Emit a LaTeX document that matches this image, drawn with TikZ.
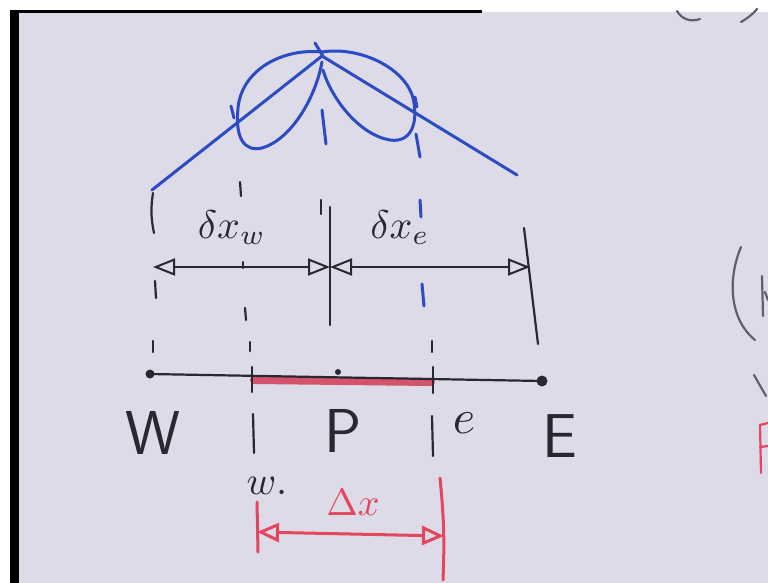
\documentclass[tikz,border=0pt]{standalone}
\usetikzlibrary{arrows.meta}
\definecolor{board}{RGB}{221,219,232}
\definecolor{ink}{RGB}{40,40,48}
\definecolor{bluepen}{RGB}{45,75,195}
\definecolor{redpen}{RGB}{228,70,95}
\definecolor{redband}{RGB}{212,82,108}
\definecolor{grayink}{RGB}{95,95,110}
\tikzset{
  pen/.style={draw=ink, line width=2.2pt, line cap=round, line join=round},
  bpen/.style={draw=bluepen, line width=3pt, line cap=round, line join=round},
  rpen/.style={draw=redpen, line width=3pt, line cap=round, line join=round},
  gpen/.style={draw=grayink, line width=2.2pt, line cap=round},
  opentri/.tip={Triangle[open, length=22pt, width=17pt, line width=2pt]},
  dimarrow/.style={pen, opentri-opentri},
  rdimarrow/.style={rpen, {Triangle[open, length=22pt, width=19pt, line width=3pt]}-{Triangle[open, length=22pt, width=19pt, line width=3pt]}},
  biglbl/.style={inner sep=0pt, text=ink, font=\sffamily\fontsize{62}{62}\selectfont},
  mathlbl/.style={inner sep=0pt, text=ink, scale=4},
  dotmark/.style={fill=ink, circle, inner sep=0pt},
}
\begin{document}
\begin{tikzpicture}[x=1pt, y=-1pt]
\useasboundingbox (0,0) rectangle (768,583);
% frame and board
\fill[white] (0,0) rectangle (768,583);
\fill[board] (10,12) rectangle (768,583);
\fill[black] (10,10) rectangle (19,583);
\fill[black] (10,10) rectangle (482,13);

% ---------- grid points ----------
\coordinate (W) at (150,374);
\coordinate (E) at (542,381);
\coordinate (P) at (338,374);
\coordinate (wf) at (254,380);
\coordinate (ef) at (431,382);

% red control-volume band
\draw[draw=redband, line width=8pt, line cap=round] (wf) -- (ef);
% main grid line
\draw[pen] (W) -- (E);
% face ticks on the line
\draw[pen] (252,367) -- (252,392);
\draw[pen] (433,367) -- (433,393);
% nodes
\node[dotmark, minimum size=9pt] (Wdot) at (W) {};
\node[dotmark, minimum size=6pt] (Pdot) at (338,372) {};
\node[dotmark, minimum size=11pt] (Edot) at (E) {};

% labels
\node[biglbl] (Wl) at (153,433) {W};
\node[biglbl] (Pl) at (343,431) {P};
\node[biglbl] (El) at (560,436) {E};
\node[mathlbl, scale=1.2] (el) at (464,423) {$e$};
\node[mathlbl, scale=1.0] (wl) at (267,486) {$w.$};

% ---------- vertical lines and dashes ----------
% W column
\draw[pen] (153,193) to[bend right=10] (154,233);
\draw[pen] (155,281) -- (156,298);
\draw[pen] (153,341) -- (153,352);
% w column
\draw[pen] (240,182) -- (241,196);
\draw[pen] (243,262) -- (243,268);
\draw[pen] (245,308) -- (246,320);
\draw[pen] (250,342) -- (250,351);
\draw[pen] (253,414) -- (254,453);
% P column
\coordinate (Ptop) at (330,207);
\coordinate (Pbot) at (330,325);
\draw[pen] (Ptop) -- (Pbot);
\draw[pen] (321,200) -- (321,214);
% e column
\draw[bpen] (420,200) -- (421,217);
\draw[bpen] (422,284) -- (424,306);
\draw[pen] (432,341) -- (432,352);
\draw[pen] (432,416) -- (433,456);
% E column
\coordinate (Etop) at (524,228);
\coordinate (Ebot) at (538,344);
\draw[pen] (Etop) -- (Ebot);

% ---------- dimension arrows ----------
\coordinate (dW) at (153,267);
\coordinate (dP) at (330,267);
\coordinate (dE) at (530,267);
\draw[dimarrow] (dW) -- (dP);
\draw[dimarrow] (dP) -- (dE);
\node[mathlbl] (dxw) at (232,228) {$\delta x_{w}$};
\node[mathlbl] (dxe) at (400,228) {$\delta x_{e}$};

% ---------- red Delta x ----------
\coordinate (rl) at (257,532);
\coordinate (rr) at (444,536);
\draw[rpen] (257,502) -- (258,552);
\draw[rpen] (440,478) to[bend left=4] (443,580);
\draw[rdimarrow] (rl) -- (rr);
\node[mathlbl, text=redpen, scale=0.95] (Dx) at (353,503) {$\Delta x$};

% ---------- blue profiles ----------
\coordinate (peak) at (322,56);
\coordinate (Lend) at (152,190);
\coordinate (Rend) at (517,175);
\draw[bpen] (Lend) -- (peak) -- (Rend);
\draw[bpen] (315,43) -- (323,56);
% left lobe
\draw[bpen] (322,52) .. controls (285,48) and (242,68) .. (238,108)
  .. controls (235,138) and (244,152) .. (262,148)
  .. controls (290,140) and (315,100) .. (322,62);
% right lobe
\draw[bpen] (322,52) .. controls (360,46) and (405,68) .. (413,98)
  .. controls (419,125) and (410,143) .. (390,140)
  .. controls (360,135) and (332,100) .. (323,70);
% small blue marks
\draw[bpen] (231,106) -- (234,118);
\draw[bpen] (415,97) -- (417,107);
\draw[bpen] (322,110) -- (326,144);
\draw[bpen] (416,134) -- (420,157);

% ---------- cut-off marks at the right edge ----------
\draw[gpen] (677,11) .. controls (682,20) and (692,22) .. (700,19);
\draw[gpen] (741,22) .. controls (748,18) and (753,14) .. (757,9);
\draw[gpen] (741,247) .. controls (727,280) and (730,320) .. (755,340);
\draw[gpen] (762,276) -- (763,316);
\draw[gpen] (765,292) -- (768,300);
\draw[gpen] (754,375) -- (766,396);
\draw[draw=redpen, line width=2.2pt, line cap=round] (760,425) -- (761,473);
\draw[draw=redpen, line width=2.2pt, line cap=round] (760,425) -- (768,423);
\draw[draw=redpen, line width=2.2pt, line cap=round] (760,447) -- (768,446);
\end{tikzpicture}
\end{document}
